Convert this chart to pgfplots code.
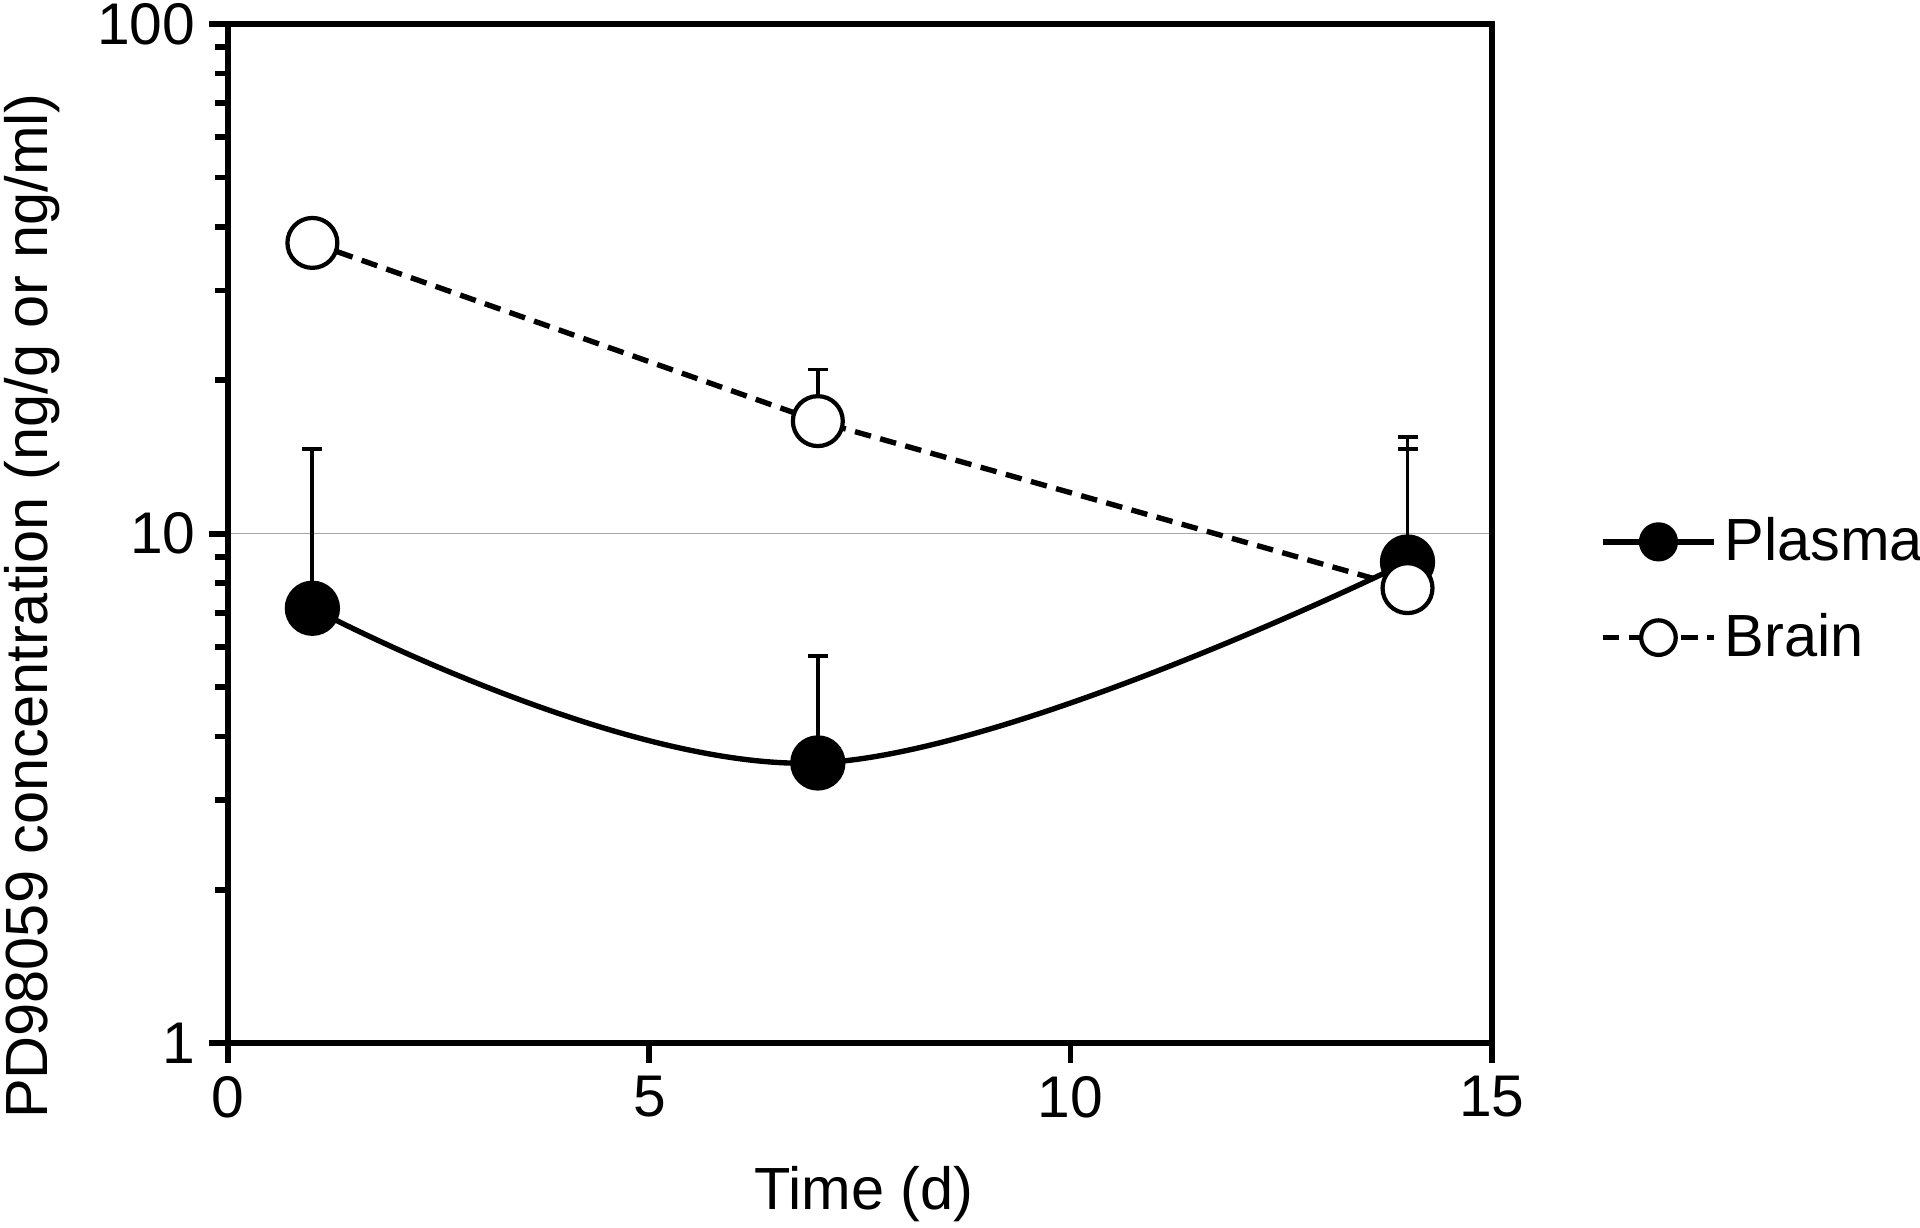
\documentclass[border=0pt]{standalone}
\usepackage{fontspec}
\setmainfont{Liberation Sans}
\usepackage{pgfplots}
\usepackage{pgfplotstable}
\pgfplotsset{compat=1.18}

\pgfplotstableread{
x y e
1 7.14 7.51
7 3.55 2.20
14 8.80 6.66
}\plasma
\pgfplotstableread{
x y e
1 37.2 0
7 16.63 4.37
14 7.82 6.83
}\brain

\begin{document}
\begin{tikzpicture}
\useasboundingbox (-59.4pt,-47.9pt) rectangle (440.5pt,271.65pt);
\begin{axis}[
  at={(0pt,0pt)}, anchor=south west,
  scale only axis, width=329pt, height=265.4pt,
  xmin=0, xmax=15, ymin=1, ymax=100, ymode=log,
  xtick={0,5,10,15},
  ytick={1,10,100}, yticklabels={1,10,100},
  minor ytick={2,3,4,5,6,7,8,9,20,30,40,50,60,70,80,90},
  tick pos=left, tick align=outside,
  major tick length=5pt, minor tick length=3.5pt,
  axis line style={line width=1.5pt},
  every tick/.style={black, line width=1.5pt},
  ymajorgrids, major grid style={black!35, line width=0.4pt},
  tick label style={font=\fontsize{15.3}{18}\selectfont},
  label style={font=\fontsize{15.5}{18}\selectfont},
  /pgf/number format/assume math mode=true,
  xlabel={Time (d)},
  ylabel={PD98059 concentration (ng/g or ng/ml)},
  xlabel style={at={(axis description cs:0.503,-0.148)}, anchor=center},
  ylabel style={at={(axis description cs:-0.155,0.429)}, anchor=center},
  legend style={draw=none, fill=none, at={(1,0.445)}, anchor=west, xshift=25pt,
    font=\fontsize{15.5}{18}\selectfont, row sep=8.2pt},
  legend cell align=left,
  legend image code/.code={\draw[mark repeat=2,mark phase=2,#1,mark size=4.5pt] plot coordinates {(0pt,0pt) (14.5pt,0pt) (29pt,0pt)};},
]
% error bars first (behind markers)
\addplot[forget plot, draw=none, mark=none,
  error bars/.cd, y dir=plus, y explicit,
  error bar style={line width=1pt, black, solid},
  error mark options={rotate=90, mark size=2.6pt, line width=1pt, black}]
  table[x=x, y=y, y error plus=e] {\plasma};
\addplot[black, line width=1.4pt, smooth, tension=0.65, mark=*, mark size=6.6pt,
  mark options={solid, fill=black, line width=1.2pt}]
  table[x=x, y=y] {\plasma};
\addlegendentry{Plasma}
\addplot[forget plot, draw=none, mark=none,
  error bars/.cd, y dir=plus, y explicit,
  error bar style={line width=1pt, black, solid},
  error mark options={rotate=90, mark size=2.6pt, line width=1pt, black}]
  table[x=x, y=y, y error plus=e] {\brain};
\addplot[black, line width=1.4pt, dash pattern=on 4.3pt off 2.5pt, mark=*, mark size=6.5pt,
  mark options={solid, fill=white, line width=1.1pt}]
  table[x=x, y=y] {\brain};
\addlegendentry{Brain}
\end{axis}
\end{tikzpicture}
\end{document}
